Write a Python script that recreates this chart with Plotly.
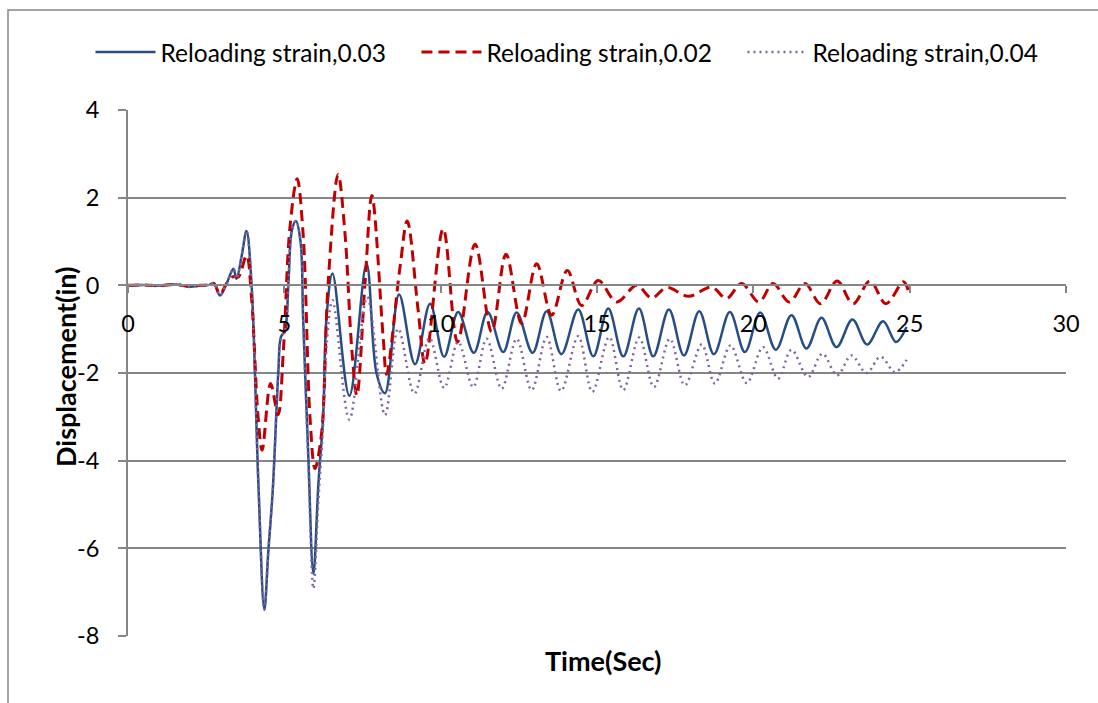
import plotly.graph_objects as go

# ---------------- data ----------------
t_003 = [0, 0.5, 1.0, 1.5, 2.0, 2.3, 2.6, 2.75, 2.94, 3.16, 3.37, 3.47, 3.63, 3.79, 3.95,
         4.17, 4.36, 4.49, 4.63, 4.81, 4.89, 5.02, 5.13, 5.24, 5.37, 5.52, 5.60, 5.76,
         5.93, 6.09, 6.24, 6.35, 6.54, 7.08, 7.63, 7.95, 8.22, 8.67, 9.18, 9.66, 10.11,
         10.56, 11.06, 11.50, 12.0, 12.43, 12.94, 13.39, 13.86, 14.40, 14.88, 15.36, 15.84,
         16.34, 16.80, 17.30, 17.78, 18.27, 18.74, 19.25, 19.73, 20.22, 20.72, 21.22,
         21.70, 22.18, 22.66, 23.17, 23.64, 24.15, 24.56, 24.9]
d_003 = [0, 0.01, -0.01, 0.02, -0.03, 0.0, 0.01, 0.05, -0.23, 0.05, 0.38, 0.15, 0.65, 1.24, 0.04,
         -4.52, -7.40, -6.04, -4.67, -1.94, -1.18, -1.03, 0.04, 1.25, 1.47, 0.99, -0.72, -3.76,
         -6.58, -4.52, -3.0, -0.72, 0.27, -2.52, 0.49, -2.01, -2.46, -0.21, -1.80, -0.42, -1.63,
         -0.61, -1.54, -0.61, -1.52, -0.62, -1.54, -0.59, -1.57, -0.55, -1.62, -0.53, -1.62,
         -0.53, -1.62, -0.55, -1.60, -0.59, -1.57, -0.61, -1.52, -0.62, -1.47, -0.68,
         -1.44, -0.74, -1.41, -0.78, -1.35, -0.82, -1.29, -0.95]

t_002 = [0, 0.5, 1.0, 1.5, 2.0, 2.3, 2.6, 2.75, 2.94, 3.16, 3.37, 3.53, 3.79, 3.95, 4.16,
         4.29, 4.56, 4.80, 4.97, 5.18, 5.41, 5.60, 5.82, 5.98, 6.19, 6.40, 6.72, 6.94, 7.16,
         7.32, 7.58, 7.80, 8.16, 8.27, 8.70, 8.93, 9.28, 9.50, 10.08, 10.54, 11.10, 11.63,
         12.09, 12.59, 13.07, 13.55, 14.05, 14.51, 15.04, 15.63, 16.27, 16.75, 17.23, 17.92,
         18.67, 19.14, 19.62, 20.18, 20.63, 21.15, 21.65, 22.15, 22.68, 23.19, 23.73, 24.24,
         24.8, 24.97]
d_002 = [0, 0.01, -0.01, 0.02, -0.03, 0.0, 0.01, 0.04, -0.2, 0.05, 0.2, 0.19, 0.68, -0.27, -3.0,
         -3.76, -2.24, -2.95, -1.48, 1.33, 2.43, 1.18, -3.0, -4.18, -3.38, 0.04, 2.53, 1.18, -1.48,
         -2.51, 0.04, 2.05, -1.18, -2.03, 0.42, 1.47, -0.57, -1.79, 1.29, -1.29, 0.94, -1.06,
         0.71, -0.87, 0.49, -0.68, 0.34, -0.46, 0.11, -0.38, 0.0, -0.29, -0.05, -0.25,
         -0.04, -0.30, 0.04, -0.38, 0.04, -0.38, 0.04, -0.42, 0.10, -0.42, 0.10, -0.42,
         0.08, -0.16]

t_004 = [0, 0.5, 1.0, 1.5, 2.0, 2.3, 2.6, 2.75, 2.94, 3.16, 3.37, 3.47, 3.63, 3.79, 3.95,
         4.17, 4.36, 4.49, 4.63, 4.81, 4.89, 5.02, 5.13, 5.24, 5.37, 5.52, 5.60, 5.76,
         5.93, 6.09, 6.24, 6.35, 6.54, 7.08, 7.65, 8.22, 8.64, 9.16, 9.64, 10.11, 10.56,
         11.04, 11.47, 11.95, 12.43, 12.91, 13.39, 13.85, 14.40, 14.85, 15.39, 15.84, 16.35,
         16.82, 17.33, 17.81, 18.35, 18.77, 19.27, 19.79, 20.31, 20.79, 21.22, 21.75, 22.21,
         22.68, 23.14, 23.62, 24.07, 24.53, 24.9]
d_004 = [0, 0.01, -0.01, 0.02, -0.03, 0.0, 0.01, 0.05, -0.23, 0.05, 0.38, 0.15, 0.65, 1.24, 0.04,
         -4.52, -7.40, -6.04, -4.67, -1.94, -1.18, -1.03, 0.04, 1.25, 1.47, 0.99, -0.72, -3.9,
         -6.92, -4.9, -3.2, -1.4, -0.34, -3.06, -0.27, -2.96, -0.99, -2.47, -1.20, -2.34, -1.29,
         -2.32, -1.22, -2.36, -1.22, -2.39, -1.18, -2.41, -1.16, -2.43, -1.18, -2.39, -1.19,
         -2.32, -1.22, -2.28, -1.35, -2.24, -1.37, -2.23, -1.41, -2.13, -1.47, -2.09, -1.56,
         -2.05, -1.60, -2.0, -1.63, -1.98, -1.70]

series_names = ["Reloading strain,0.03", "Reloading strain,0.02", "Reloading strain,0.04"]
x_ticks = [0, 5, 10, 15, 20, 25, 30]
y_ticks = [-8, -6, -4, -2, 0, 2, 4]
y_tick_text = ["-8", "-6", "-4", "-2", "0", "2", "4"]

# ---------------- figure ----------------
FONT = "Lato"
GRID = "#868686"

fig = go.Figure()
fig.add_trace(go.Scatter(x=t_003, y=d_003, name=series_names[0], mode="lines",
                         line=dict(color="#264D84", width=2.5, shape="spline", smoothing=1.0)))
fig.add_trace(go.Scatter(x=t_002, y=d_002, name=series_names[1], mode="lines",
                         line=dict(color="#C00000", width=3, dash="11px,6px", shape="spline", smoothing=1.0)))
fig.add_trace(go.Scatter(x=t_004, y=d_004, name=series_names[2], mode="lines",
                         line=dict(color="#8064A2", width=2.5, dash="2px,4px", shape="spline", smoothing=1.0)))

fig.update_layout(
    width=1098, height=703,
    margin=dict(l=128, r=32, t=110, b=67),
    paper_bgcolor="white", plot_bgcolor="white",
    font=dict(family=FONT, size=23, color="black"),
    showlegend=True,
    legend=dict(orientation="h", x=-0.04, xanchor="left", y=1.11, yanchor="middle",
                font=dict(family=FONT, size=24.5), itemwidth=60,
                entrywidth=251, entrywidthmode="pixels",
                bgcolor="rgba(0,0,0,0)"),
    xaxis=dict(range=[0, 30], tickvals=x_ticks, anchor="free", position=8 / 12,
               showline=True, linecolor=GRID, linewidth=2,
               ticks="outside", ticklen=7, tickwidth=2, tickcolor=GRID,
               showgrid=False, zeroline=False, ticklabelstandoff=10,
               tickfont=dict(size=23.5)),
    yaxis=dict(range=[-8, 4], tickvals=y_ticks, ticktext=y_tick_text,
               showgrid=True, gridcolor=GRID, gridwidth=2,
               showline=True, linecolor=GRID, linewidth=2,
               ticks="outside", ticklen=8, tickwidth=2, tickcolor=GRID,
               zeroline=False, ticklabelstandoff=14, tickfont=dict(size=23.5)),
    annotations=[
        dict(text="<b>Time(Sec)</b>", xref="paper", yref="paper", x=(603 - 128) / 938,
             y=(636 - 660) / 526, xanchor="center", yanchor="middle", showarrow=False,
             font=dict(family=FONT, size=27)),
        dict(text="<b>Displacement(in)</b>", xref="paper", yref="paper", x=(65 - 128) / 938,
             y=(636 - 367) / 526, xanchor="center", yanchor="middle", showarrow=False,
             textangle=-90, font=dict(family=FONT, size=27)),
    ],
    shapes=[
        dict(type="rect", xref="paper", yref="paper",
             x0=(8 - 128) / 938, x1=(1104 - 128) / 938,
             y0=(636 - 710) / 526, y1=(636 - 10) / 526,
             line=dict(color=GRID, width=1.5), fillcolor="rgba(0,0,0,0)", layer="below"),
    ],
)

fig.write_html("out.html")
